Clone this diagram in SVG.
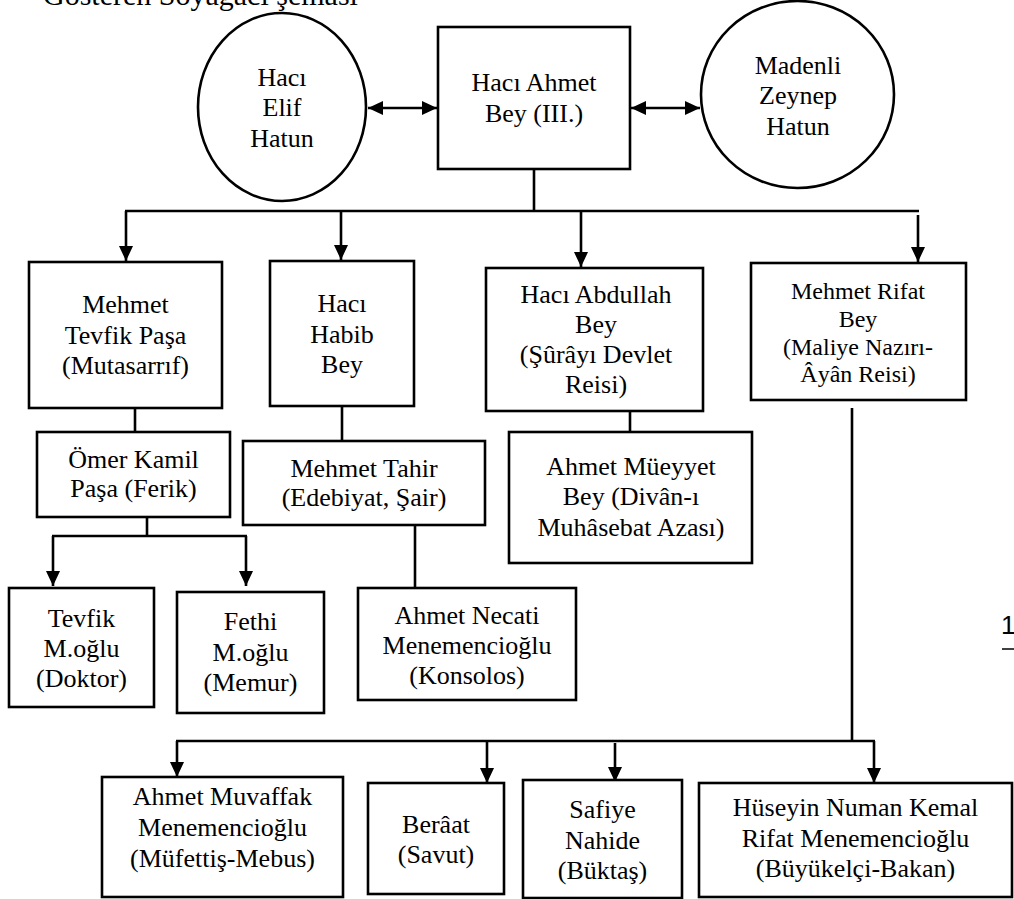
<svg xmlns="http://www.w3.org/2000/svg" width="1014" height="899" viewBox="0 0 1014 899">
<style>
.t{font-family:"Liberation Serif","Times New Roman",serif;font-size:26px;fill:#000;text-anchor:middle}
.s{font-size:24px}
.b{fill:#fff;stroke:#000;stroke-width:2.6}
.c{stroke:#000;stroke-width:2.6;fill:none}
</style>
<defs>
<marker id="ah" viewBox="0 0 15 14" refX="15" refY="7" markerWidth="15" markerHeight="14" markerUnits="userSpaceOnUse" orient="auto-start-reverse">
<path d="M0,0 L15,7 L0,14 z" fill="#000"/>
</marker>
</defs>
<rect width="1014" height="899" fill="#fff"/>
<text x="43" y="5" style="font-family:'Liberation Serif',serif;font-size:30px">Gösteren Soyağacı şeması</text>

<g id="connectors" class="c">
<line x1="368" y1="108" x2="437" y2="108" marker-start="url(#ah)" marker-end="url(#ah)"/>
<line x1="631" y1="108" x2="700" y2="108" marker-start="url(#ah)" marker-end="url(#ah)"/>
<line x1="534" y1="169" x2="534" y2="211"/>
<line x1="125" y1="211" x2="919" y2="211"/>
<line x1="126" y1="211" x2="126" y2="261" marker-end="url(#ah)"/>
<line x1="341" y1="211" x2="341" y2="260" marker-end="url(#ah)"/>
<line x1="581" y1="211" x2="581" y2="267" marker-end="url(#ah)"/>
<line x1="918" y1="215" x2="918" y2="262" marker-end="url(#ah)"/>
<line x1="135" y1="408" x2="135" y2="432"/>
<line x1="342" y1="406" x2="342" y2="441"/>
<line x1="630" y1="411" x2="630" y2="432"/>
<line x1="852" y1="408" x2="852" y2="741"/>
<line x1="147" y1="517" x2="147" y2="536"/>
<line x1="52" y1="536" x2="247" y2="536"/>
<line x1="53" y1="536" x2="53" y2="586" marker-end="url(#ah)"/>
<line x1="246" y1="536" x2="246" y2="586" marker-end="url(#ah)"/>
<line x1="415" y1="525" x2="415" y2="588"/>
<line x1="176" y1="741" x2="875" y2="741"/>
<line x1="177" y1="741" x2="177" y2="777" marker-end="url(#ah)"/>
<line x1="487" y1="741" x2="487" y2="783" marker-end="url(#ah)"/>
<line x1="615" y1="743" x2="615" y2="782" marker-end="url(#ah)"/>
<line x1="874" y1="741" x2="874" y2="783" marker-end="url(#ah)"/>
</g>

<g id="n-elif">
<ellipse class="b" cx="282" cy="107" rx="84" ry="94"/>
<text class="t" x="282" y="86">Hacı</text>
<text class="t" x="282" y="116">Elif</text>
<text class="t" x="282" y="147">Hatun</text>
</g>
<g id="n-ahmet">
<rect class="b" x="438" y="27" width="192" height="142"/>
<text class="t" x="534" y="91">Hacı Ahmet</text>
<text class="t" x="534" y="122">Bey (III.)</text>
</g>
<g id="n-zeynep">
<ellipse class="b" cx="797.5" cy="94.5" rx="96.5" ry="93.5"/>
<text class="t" x="798" y="74">Madenli</text>
<text class="t" x="798" y="104">Zeynep</text>
<text class="t" x="798" y="135">Hatun</text>
</g>

<g id="n-tevfikpasa">
<rect class="b" x="29" y="262" width="193" height="146"/>
<text class="t" x="125.5" y="313">Mehmet</text>
<text class="t" x="125.5" y="344">Tevfik Paşa</text>
<text class="t" x="125.5" y="374">(Mutasarrıf)</text>
</g>
<g id="n-habib">
<rect class="b" x="270" y="261" width="144" height="145"/>
<text class="t" x="342" y="312">Hacı</text>
<text class="t" x="342" y="343">Habib</text>
<text class="t" x="342" y="373">Bey</text>
</g>
<g id="n-abdullah">
<rect class="b" x="486" y="268" width="217" height="143"/>
<text class="t" x="596" y="303">Hacı Abdullah</text>
<text class="t" x="596" y="333">Bey</text>
<text class="t" x="596" y="363">(Şûrâyı Devlet</text>
<text class="t" x="596" y="393">Reisi)</text>
</g>
<g id="n-rifat">
<rect class="b" x="751" y="263" width="215" height="137"/>
<text class="t s" x="858" y="299">Mehmet Rifat</text>
<text class="t s" x="858" y="327">Bey</text>
<text class="t s" x="858" y="355">(Maliye Nazırı-</text>
<text class="t s" x="858" y="382">Âyân Reisi)</text>
</g>

<g id="n-omer">
<rect class="b" x="37" y="432" width="193" height="85"/>
<text class="t" x="133.5" y="468">Ömer Kamil</text>
<text class="t" x="133.5" y="497">Paşa (Ferik)</text>
</g>
<g id="n-tahir">
<rect class="b" x="243" y="441" width="242" height="84"/>
<text class="t" x="364" y="477">Mehmet Tahir</text>
<text class="t" x="364" y="506">(Edebiyat, Şair)</text>
</g>
<g id="n-mueyyet">
<rect class="b" x="509" y="432" width="243" height="131"/>
<text class="t" x="631" y="475">Ahmet Müeyyet</text>
<text class="t" x="631" y="505">Bey (Divân-ı</text>
<text class="t" x="631" y="536">Muhâsebat Azası)</text>
</g>

<g id="n-tevfik">
<rect class="b" x="9" y="588" width="145" height="119"/>
<text class="t" x="81.5" y="627">Tevfik</text>
<text class="t" x="81.5" y="657">M.oğlu</text>
<text class="t" x="81.5" y="687">(Doktor)</text>
</g>
<g id="n-fethi">
<rect class="b" x="177" y="592" width="147" height="121"/>
<text class="t" x="250.5" y="630">Fethi</text>
<text class="t" x="250.5" y="661">M.oğlu</text>
<text class="t" x="250.5" y="691">(Memur)</text>
</g>
<g id="n-necati">
<rect class="b" x="358" y="588" width="218" height="112"/>
<text class="t" x="467" y="624">Ahmet Necati</text>
<text class="t" x="467" y="654">Menemencioğlu</text>
<text class="t" x="467" y="684">(Konsolos)</text>
</g>

<g id="n-muvaffak">
<rect class="b" x="102" y="777" width="241" height="120"/>
<text class="t" x="222.5" y="805">Ahmet Muvaffak</text>
<text class="t" x="222.5" y="836">Menemencioğlu</text>
<text class="t" x="222.5" y="867">(Müfettiş-Mebus)</text>
</g>
<g id="n-beraat">
<rect class="b" x="368" y="783" width="136" height="111"/>
<text class="t" x="436" y="833">Berâat</text>
<text class="t" x="436" y="863">(Savut)</text>
</g>
<g id="n-safiye">
<rect class="b" x="523" y="780" width="159" height="118"/>
<text class="t" x="602.5" y="818">Safiye</text>
<text class="t" x="602.5" y="849">Nahide</text>
<text class="t" x="602.5" y="879">(Büktaş)</text>
</g>
<g id="n-huseyin">
<rect class="b" x="699" y="783" width="313" height="114"/>
<text class="t" x="855.5" y="816">Hüseyin Numan Kemal</text>
<text class="t" x="855.5" y="847">Rifat Menemencioğlu</text>
<text class="t" x="855.5" y="877">(Büyükelçi-Bakan)</text>
</g>

<text x="1001" y="634" style="font-family:'Liberation Sans',Arial,sans-serif;font-size:26px">1</text>
<line x1="1002" y1="649" x2="1014" y2="649" stroke="#000" stroke-width="1.5"/>
</svg>
